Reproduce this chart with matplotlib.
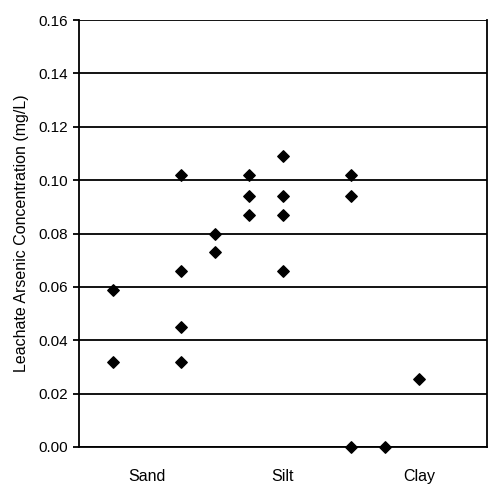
import matplotlib
matplotlib.use("Agg")
import matplotlib.pyplot as plt

x_pos = [1, 1, 3, 3, 3, 3, 4, 4, 5, 5, 5, 6, 6, 6, 6, 8, 8, 8, 9, 10]
arsenic = [0.059, 0.032,
           0.102, 0.066, 0.045, 0.032,
           0.080, 0.073,
           0.102, 0.094, 0.087,
           0.109, 0.094, 0.087, 0.066,
           0.102, 0.094, 0.000,
           0.000,
           0.0255]
categories = ["Sand", "Silt", "Clay"]
category_pos = [2, 6, 10]
y_ticks = [0.00, 0.02, 0.04, 0.06, 0.08, 0.10, 0.12, 0.14, 0.16]

plt.rcParams['font.family'] = ['Liberation Sans', 'DejaVu Sans']
fig = plt.figure(figsize=(5, 5), dpi=100)
ax = fig.add_axes([0.158, 0.106, 0.816, 0.854])
ax.scatter(x_pos, arsenic, marker='D', s=34, color='black', zorder=3, clip_on=False)
ax.set_xlim(0, 12)
ax.set_ylim(0, 0.16)
ax.set_yticks(y_ticks)
ax.set_yticklabels([f"{v:.2f}" for v in y_ticks], fontsize=11)
ax.set_xticks(category_pos)
ax.set_xticklabels(categories, fontsize=11.5)
ax.tick_params(axis='x', length=0, pad=16)
ax.tick_params(axis='y', length=4, width=1.3, direction='out', pad=4)
ax.yaxis.grid(True, color='black', linewidth=1.3)
ax.set_axisbelow(True)
for s in ['left', 'right', 'bottom']:
    ax.spines[s].set_linewidth(1.3)
    ax.spines[s].set_color('black')
ax.spines['top'].set_visible(False)
ax.set_ylabel("Leachate Arsenic Concentration (mg/L)", fontsize=11.5, labelpad=7)
fig.savefig("out.png", dpi=100, facecolor='white')
